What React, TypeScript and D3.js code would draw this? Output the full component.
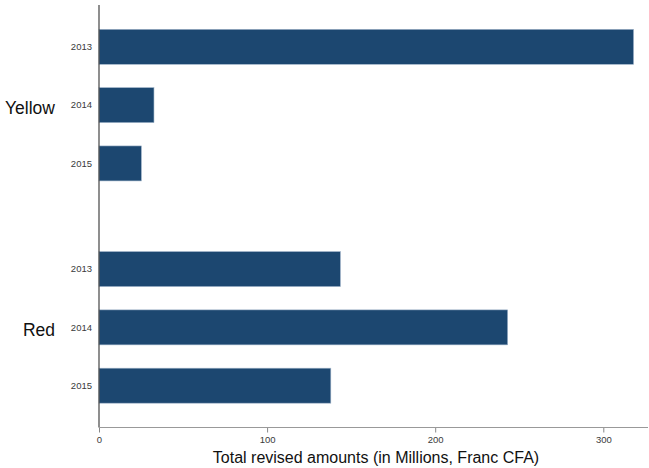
import React, { useEffect, useRef } from 'react';
import * as d3 from 'd3';

const groups = ['Yellow', 'Red'];
const years = ['2013', '2014', '2015'];
const yellowValues = [318, 32.7, 25.2];
const redValues = [143.6, 243.1, 137.9];
const xTicks = [0, 100, 200, 300];

const W = 649;
const H = 468;

export default function App() {
  const svgRef = useRef<SVGSVGElement>(null);

  useEffect(() => {
    if (!svgRef.current) return;
    const svg = d3.select(svgRef.current);
    svg.selectAll('*').remove();

    const left = 99;
    const top = 5;
    const bottom = 427.5;
    const font = 'Liberation Sans, Arial, sans-serif';

    const x = d3.scaleLinear().domain([0, 300]).range([left, 603.3]);

    const outer = d3.scaleBand<string>()
      .domain(groups)
      .range([top, bottom])
      .paddingInner(0.213)
      .paddingOuter(0.057);

    const inner = d3.scaleBand<string>()
      .domain(years)
      .range([0, outer.bandwidth()])
      .paddingInner(0.4)
      .paddingOuter(0.2);

    const series: Record<string, number[]> = { Yellow: yellowValues, Red: redValues };

    // bars
    groups.forEach(g => {
      const gy = outer(g) || 0;
      const rows = years.map((yr, i) => ({ yr, v: series[g][i] }));
      const grp = svg.append('g').attr('transform', `translate(0,${gy})`);
      grp.selectAll('rect')
        .data(rows)
        .join('rect')
        .attr('x', x(0))
        .attr('y', d => inner(d.yr) || 0)
        .attr('width', d => x(d.v) - x(0))
        .attr('height', inner.bandwidth())
        .attr('fill', '#1c4770')
        .attr('stroke', '#9fb3c8')
        .attr('stroke-width', 0.6);

      grp.selectAll('text.year')
        .data(rows)
        .join('text')
        .attr('class', 'year')
        .attr('x', 92)
        .attr('y', d => (inner(d.yr) || 0) + inner.bandwidth() / 2)
        .attr('dy', '0.35em')
        .attr('text-anchor', 'end')
        .attr('font-family', font)
        .attr('font-size', 9.5)
        .attr('fill', '#3a3a3a')
        .text(d => d.yr);

      svg.append('text')
        .attr('x', 55)
        .attr('y', gy + outer.bandwidth() / 2 + 2.5)
        .attr('dy', '0.35em')
        .attr('text-anchor', 'end')
        .attr('font-family', font)
        .attr('font-size', 17.5)
        .attr('fill', '#111')
        .text(g);
    });

    // y axis line
    svg.append('line')
      .attr('x1', left).attr('x2', left)
      .attr('y1', top).attr('y2', bottom)
      .attr('stroke', '#444').attr('stroke-width', 1.2);

    // x axis
    const xAxis = svg.append('g')
      .attr('transform', `translate(0,${bottom})`)
      .call(d3.axisBottom(x).tickValues(xTicks).tickSize(5).tickPadding(4).tickSizeOuter(0));
    xAxis.select('.domain').remove();
    xAxis.append('line')
      .attr('x1', left).attr('x2', 648)
      .attr('stroke', '#999').attr('stroke-width', 1.2);
    xAxis.selectAll('.tick line').attr('stroke', '#888');
    xAxis.selectAll('.tick text')
      .attr('fill', '#3a3a3a')
      .attr('font-family', font)
      .attr('font-size', 9.5);

    svg.append('text')
      .attr('x', 376)
      .attr('y', 463)
      .attr('text-anchor', 'middle')
      .attr('font-family', font)
      .attr('font-size', 16)
      .attr('fill', '#111')
      .text('Total revised amounts (in Millions, Franc CFA)');
  }, []);

  return (
    <svg
      ref={svgRef}
      width={W}
      height={H}
      style={{ position: 'absolute', left: 0, top: 0, background: '#fff' }}
    />
  );
}
